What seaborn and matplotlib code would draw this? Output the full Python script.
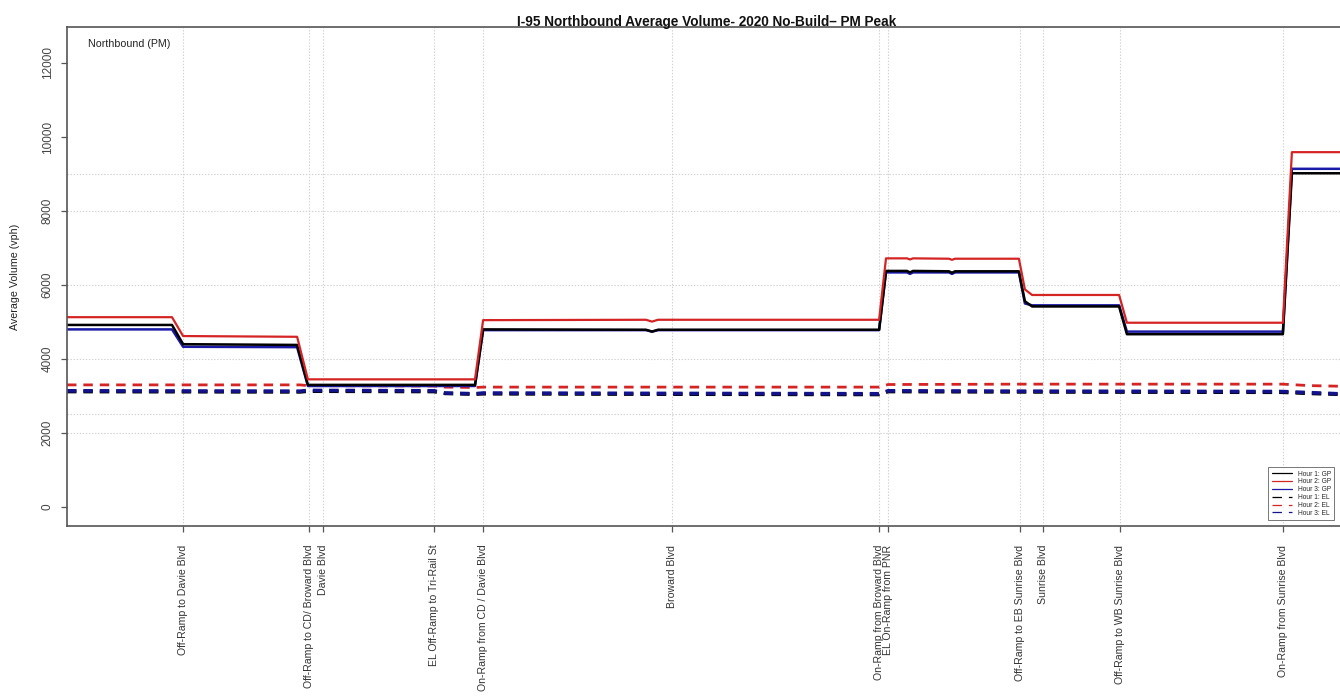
import matplotlib
matplotlib.use("Agg")
import matplotlib.pyplot as plt
import seaborn as sns
import pandas as pd

# Mainline stations (miles from start of study segment) for general-purpose lanes
gp_station = [0.000, 0.350, 0.387, 0.767, 0.803, 1.360, 1.387, 1.930, 1.950, 1.970,
              2.707, 2.730, 2.800, 2.810, 2.820, 2.940, 2.950, 2.960, 3.173, 3.193,
              3.217, 3.507, 3.533, 4.053, 4.083, 4.267]
gp_hour1 = [4920, 4920, 4400, 4380, 3300, 3300, 4800, 4790, 4740, 4790,
            4790, 6380, 6380, 6340, 6380, 6370, 6330, 6370, 6370, 5560,
            5420, 5420, 4670, 4670, 9020, 9020]
gp_hour2 = [5130, 5130, 4620, 4600, 3450, 3450, 5050, 5060, 5010, 5060,
            5060, 6720, 6720, 6690, 6720, 6710, 6680, 6710, 6710, 5880,
            5730, 5730, 4980, 4980, 9590, 9590]
gp_hour3 = [4800, 4800, 4330, 4320, 3270, 3270, 4780, 4780, 4740, 4780,
            4780, 6340, 6340, 6300, 6340, 6340, 6300, 6340, 6340, 5500,
            5450, 5450, 4740, 4740, 9140, 9140]

# Express lanes
el_station = [0.000, 0.777, 0.803, 1.223, 1.260, 1.360, 1.387, 1.950, 2.707, 2.737,
              3.173, 4.053, 4.143, 4.267]
el_hour1 = [3120, 3110, 3130, 3120, 3070, 3050, 3060, 3050, 3040, 3120, 3110, 3100, 3070, 3040]
el_hour2 = [3300, 3300, 3280, 3270, 3240, 3230, 3240, 3240, 3240, 3310, 3320, 3320, 3280, 3260]
el_hour3 = [3140, 3130, 3150, 3140, 3080, 3060, 3080, 3070, 3060, 3140, 3130, 3120, 3090, 3050]

# Interchange / ramp locations
tick_station = [0.387, 0.807, 0.853, 1.223, 1.387, 2.017, 2.707, 2.737, 3.177, 3.253, 3.510, 4.053]
tick_labels = ["Off-Ramp to Davie Blvd", "Off-Ramp to CD/ Broward Blvd", "Davie Blvd",
               "EL Off-Ramp to Tri-Rail St", "On-Ramp from CD / Davie Blvd", "Broward Blvd",
               "On-Ramp from Broward Blvd", "EL On-Ramp from PNR", "Off-Ramp to EB Sunrise Blvd",
               "Sunrise Blvd", "Off-Ramp to WB Sunrise Blvd", "On-Ramp from Sunrise Blvd"]

y_ticks = [0, 2000, 4000, 6000, 8000, 10000, 12000]
y_grid = [2000, 2500, 4000, 6000, 8000, 9000]

sns.set_theme(style="white")
plt.rcParams["font.family"] = ["Liberation Sans", "DejaVu Sans"]
plt.rcParams["lines.scale_dashes"] = False

fig = plt.figure(figsize=(13.4, 6.96), dpi=100)
ax = fig.add_axes([67 / 1340, 1 - 526 / 696, 1280 / 1340, 499 / 696])

RED = "#d42424"
BLUE = "#1a1aa6"
NAVY = "#12128a"
BLACK = "#000000"

gp = pd.DataFrame({"station": gp_station, "h1": gp_hour1, "h2": gp_hour2, "h3": gp_hour3})
el = pd.DataFrame({"station": el_station, "h1": el_hour1, "h2": el_hour2, "h3": el_hour3})

# grid first so lines sit on top
for s in tick_station:
    ax.axvline(s, color="#d2d2d2", lw=0.8, ls=(0, (1, 1.2)), zorder=0)
for g in y_grid:
    ax.axhline(g, color="#d2d2d2", lw=0.8, ls=(0, (1, 1.2)), zorder=0)

dash = (0, (6.8, 5.0))
sns.lineplot(data=el, x="station", y="h2", ax=ax, color=RED, lw=2.0, linestyle=dash,
             estimator=None, sort=False, label="Hour 2: EL", legend=False)
sns.lineplot(data=el, x="station", y="h1", ax=ax, color=BLACK, lw=2.6, linestyle=dash,
             estimator=None, sort=False, label="Hour 1: EL", legend=False)
sns.lineplot(data=el, x="station", y="h3", ax=ax, color=NAVY, lw=2.6, linestyle=dash,
             estimator=None, sort=False, label="Hour 3: EL", legend=False)

sns.lineplot(data=gp, x="station", y="h3", ax=ax, color=BLUE, lw=1.8,
             estimator=None, sort=False, label="Hour 3: GP", legend=False)
sns.lineplot(data=gp, x="station", y="h1", ax=ax, color=BLACK, lw=1.8,
             estimator=None, sort=False, label="Hour 1: GP", legend=False)
sns.lineplot(data=gp, x="station", y="h2", ax=ax, color=RED, lw=1.6,
             estimator=None, sort=False, label="Hour 2: GP", legend=False)

ax.set_xlim(0, 1280 / 300)
ax.set_ylim(-514, 12973)

ax.set_xticks(tick_station)
ax.set_xticklabels(tick_labels, rotation=90, fontsize=7.6, color="#333333", va="top", ha="center")
ax.set_yticks(y_ticks)
ax.set_yticklabels([str(v) for v in y_ticks], rotation=90, fontsize=8.5, color="#444444", va="center")
ax.tick_params(axis="x", length=4.5, width=0.9, color="#555555", pad=9, bottom=True)
ax.tick_params(axis="y", length=4.5, width=0.9, color="#555555", pad=5, left=True)

ax.set_xlabel("")
ax.set_ylabel("Average Volume (vph)", fontsize=7.7, color="#222222", labelpad=16)

for side in ["left", "bottom", "top"]:
    ax.spines[side].set_color("#555555")
    ax.spines[side].set_linewidth(1.2)
ax.spines["right"].set_visible(False)

ax.set_title("I-95 Northbound Average Volume- 2020 No-Build\u2013 PM Peak",
             fontsize=9.8, fontweight="bold", color="#111111", pad=0.5)
ax.text(0.0165, 0.975, "Northbound (PM)", transform=ax.transAxes, fontsize=7.7,
        color="#222222", ha="left", va="top")

handles, labels = ax.get_legend_handles_labels()
order = ["Hour 1: GP", "Hour 2: GP", "Hour 3: GP", "Hour 1: EL", "Hour 2: EL", "Hour 3: EL"]
hmap = dict(zip(labels, handles))
leg = ax.legend([hmap[k] for k in order], order, loc="upper left",
                bbox_to_anchor=(1265 / 1340, 1 - 464 / 696), bbox_transform=fig.transFigure,
                fontsize=4.8, handlelength=3.0, handletextpad=0.9, labelspacing=0.12,
                borderpad=0.5, frameon=True, fancybox=False, edgecolor="#555555")
leg.get_frame().set_linewidth(0.7)
for line in leg.get_lines():
    line.set_linewidth(0.9)

fig.savefig("out.png", dpi=100)
